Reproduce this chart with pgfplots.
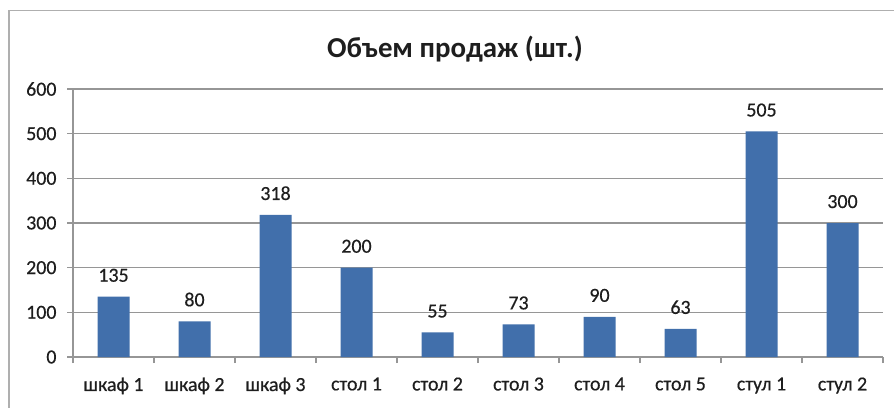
\documentclass[border=0pt]{standalone}
\usepackage{pgfplots}
\pgfplotsset{compat=1.18}
\usepackage{fontspec}
\setmainfont{Carlito}
\newfontfamily\lblfont[FakeBold=0.5]{Carlito}
\definecolor{barblue}{RGB}{65,111,171}
\definecolor{gridgray}{RGB}{150,150,150}
\definecolor{framegray}{RGB}{175,175,175}
\definecolor{txt}{RGB}{30,30,30}
\begin{document}
\begin{tikzpicture}[x=1bp,y=1bp]
\useasboundingbox (0,0) rectangle (894,407);
\draw[framegray, line width=1.6bp] (9,-5) -- (9,396.5) -- (900,396.5);
\node[anchor=base, text=txt, font=\fontsize{29}{34}\selectfont\bfseries] at (455,350) {Объем продаж (шт.)};
\begin{axis}[
  at={(73bp,50bp)}, anchor=south west,
  scale only axis, width=810bp, height=268bp,
  xmin=-0.5, xmax=9.5, ymin=0, ymax=600,
  ytick={0,100,...,600},
  xtick={-0.5,0.5,...,9.5},
  x tick label as interval,
  xticklabels={шкаф 1,шкаф 2,шкаф 3,стол 1,стол 2,стол 3,стол 4,стол 5,стул 1,стул 2},
  axis x line*=bottom, axis y line*=left,
  axis line style={gridgray, line width=1.2bp},
  ymajorgrids, grid style={gridgray, line width=1.2bp},
  tick align=outside, major tick length=6bp, tick style={gridgray, line width=1.2bp},
  /pgf/number format/assume math mode=true,
  ticklabel style={font=\lblfont\fontsize{20}{23}\selectfont, text=txt},
  yticklabel style={xshift=-7bp},
  xticklabel style={yshift=-11bp},
]
\addplot[ybar, bar width=32bp, fill=barblue, draw=none,
  nodes near coords,
  nodes near coords style={font=\lblfont\fontsize{20}{23}\selectfont, text=txt, anchor=base, inner sep=0pt, yshift=15bp}]
  coordinates {(0,135) (1,80) (2,318) (3,200) (4,55) (5,73) (6,90) (7,63) (8,505) (9,300)};
\end{axis}
\end{tikzpicture}
\end{document}
